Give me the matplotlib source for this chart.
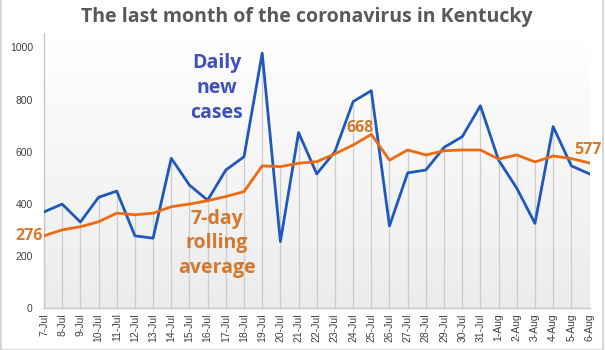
import numpy as np
import matplotlib
matplotlib.use("Agg")
import matplotlib.pyplot as plt

# data
dates = ["7-Jul", "8-Jul", "9-Jul", "10-Jul", "11-Jul", "12-Jul", "13-Jul", "14-Jul",
         "15-Jul", "16-Jul", "17-Jul", "18-Jul", "19-Jul", "20-Jul", "21-Jul", "22-Jul",
         "23-Jul", "24-Jul", "25-Jul", "26-Jul", "27-Jul", "28-Jul", "29-Jul", "30-Jul",
         "31-Jul", "1-Aug", "2-Aug", "3-Aug", "4-Aug", "5-Aug", "6-Aug"]
daily_cases = [368, 398, 329, 424, 448, 276, 267, 574, 471, 413, 529, 580, 978, 254,
               673, 514, 600, 792, 834, 314, 518, 529, 616, 657, 776, 567, 459, 324,
               696, 545, 514]
rolling_avg = [276, 299, 311, 330, 363, 357, 363, 388, 398, 411, 427, 446, 545, 542,
               555, 561, 591, 625, 666, 567, 606, 587, 603, 606, 606, 571, 587, 560,
               583, 573, 556]
y_ticks = [0, 200, 400, 600, 800, 1000]
# labelled points: (index, label text)
avg_labels = [(0, "276"), (18, "668"), (30, "577")]

blue = "#1f58be"
orange = "#ee6a12"
blue_txt = "#3f51bf"
orange_txt = "#d6782a"
grey_txt = "#595959"

fig = plt.figure(figsize=(6.05, 3.5), dpi=100)
fig.patch.set_facecolor("white")
ax = fig.add_axes([0.0727, 0.121, 0.9017, 0.785])

x = np.arange(len(dates))
ymax = 1056

# gradient background (white at top, light grey at bottom)
grad = np.linspace(0.925, 1.0, 256).reshape(-1, 1)
ax.imshow(np.dstack([grad, grad, grad]), extent=[0, len(dates) - 1, 0, ymax],
          origin="lower", aspect="auto", zorder=0)
ax.set_xlim(0, len(dates) - 1)
ax.set_ylim(0, ymax)

# drop lines from the higher series down to the axis
tops = np.maximum(daily_cases, rolling_avg)
ax.vlines(x, 0, tops, color="#cccccc", linewidth=0.9, zorder=1)

ax.plot(x, daily_cases, color=blue, linewidth=2.0, zorder=3)
ax.plot(x, rolling_avg, color=orange, linewidth=2.0, zorder=4)

ax.set_yticks(y_ticks)
ax.set_yticklabels([str(v) for v in y_ticks], fontsize=7.5, color="#404040",
                   family="Liberation Sans")
ax.set_xticks(x)
ax.set_xticklabels(dates, rotation=90, fontsize=7.5, color="#404040",
                   family="Liberation Sans")
ax.tick_params(axis="y", length=0, pad=8)
ax.tick_params(axis="x", length=0, pad=4)

for side in ["top", "right"]:
    ax.spines[side].set_visible(False)
for side in ["left", "bottom"]:
    ax.spines[side].set_color("#c8c8c8")
    ax.spines[side].set_linewidth(1.0)

fig.text(0.507, 0.951, "The last month of the coronavirus in Kentucky", ha="center",
         va="center", fontsize=14, fontweight="bold", color=grey_txt, family="Open Sans")

ax.text(9.5, 845, "Daily\nnew\ncases", ha="center", va="center", fontsize=14,
        fontweight="bold", color=blue_txt, family="Open Sans", linespacing=1.32)
ax.text(9.5, 247, "7-day\nrolling\naverage", ha="center", va="center", fontsize=14,
        fontweight="bold", color=orange_txt, family="Open Sans", linespacing=1.32)

offsets = {0: (-1, 0), 18: (-8, 4.5), 30: (-1.5, 9.5)}
for i, txt in avg_labels:
    dx, dy = offsets[i]
    ax.annotate(txt, (i, rolling_avg[i]), xytext=(dx, dy), textcoords="offset points",
                ha="right" if i == 0 else "center", va="center", fontsize=11.5,
                fontweight="bold", color=orange_txt, family="Open Sans",
                annotation_clip=False, zorder=5)

# light chart border
fig.add_artist(plt.Rectangle((0.001, 0.001), 0.995, 1.2, transform=fig.transFigure,
                             fill=False, edgecolor="#d0d0d0", linewidth=1.2))

fig.savefig("out.png", dpi=100)
